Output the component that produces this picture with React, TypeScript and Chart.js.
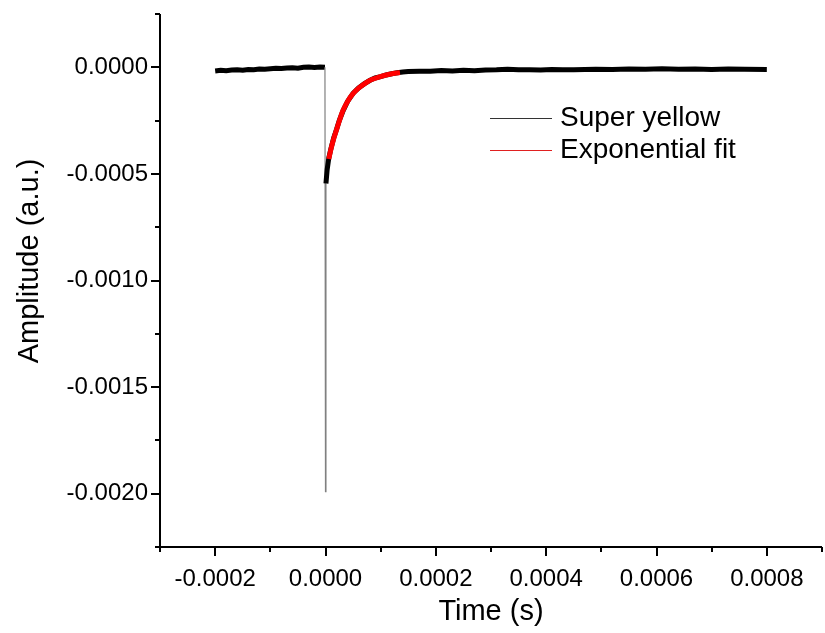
import React, { useEffect, useRef } from "react";
import { Chart, registerables } from "chart.js";

Chart.register(...registerables);

// ---- data ----
const seriesLabels = ["Super yellow", "Exponential fit"];

const blackX = [
  -0.0002, -0.00019, -0.00018, -0.00017, -0.00016, -0.00015, -0.00014, -0.00013, -0.00012, -0.00011,
  -0.0001, -0.00009, -0.00008, -0.00007, -0.00006, -0.00005, -0.00004, -0.00003, -0.00002, -0.00001,
  -0.000001, 0.0, 0.0000008, 0.000003, 0.000006, 0.00001, 0.000015, 0.00002, 0.000025, 0.000032,
  0.00004, 0.00005, 0.00006, 0.00007, 0.00008, 0.00009, 0.0001, 0.00011, 0.00012, 0.00013,
  0.00014, 0.00015, 0.00017, 0.00019, 0.00021, 0.00023, 0.00025, 0.00027, 0.00029, 0.00031,
  0.00033, 0.00035, 0.00037, 0.00039, 0.00041, 0.00043, 0.00045, 0.00047, 0.00049, 0.00052,
  0.00055, 0.00058, 0.00061, 0.00064, 0.00067, 0.0007, 0.00073, 0.00076, 0.0008,
];
const blackY = [
  -0.000017, -0.000014, -0.000016, -0.000013, -0.000012, -0.000014, -0.00001, -0.000011, -0.000008, -0.000009,
  -0.000007, -0.000005, -0.000006, -0.000003, -0.000002, -0.000004, 0.0, 0.000001, -0.000001, 0.000001,
  0.0, -0.00199, -0.000545, -0.00048, -0.000425, -0.00038, -0.00033, -0.000292, -0.00025, -0.000203,
  -0.00016, -0.000122, -0.000097, -0.000078, -0.000062, -0.00005, -0.000044, -0.000036, -0.00003, -0.000026,
  -0.000022, -0.00002, -0.000018, -0.000019, -0.000015, -0.000017, -0.000014, -0.000016, -0.000013, -0.000012,
  -0.000009, -0.000012, -0.000011, -0.000013, -0.00001, -0.000012, -0.000011, -0.00001, -0.000009, -0.00001,
  -0.000008, -0.000009, -0.000007, -0.000009, -0.000008, -0.00001, -0.000008, -0.000009, -0.00001,
];

const fitX = [
  0.000006, 0.00001, 0.000015, 0.0000195, 0.000025, 0.0000315, 0.00004, 0.0000495,
  0.00006, 0.0000738, 0.000085, 0.0000978, 0.00011, 0.000128, 0.000135,
];
const fitY = [
  -0.00043, -0.000382, -0.000334, -0.000297, -0.000252, -0.000204, -0.00016, -0.000125,
  -0.000098, -0.000072, -0.000056, -0.000045, -0.000036, -0.000027, -0.000025,
];

const xTickValues = [-0.0002, 0.0, 0.0002, 0.0004, 0.0006, 0.0008];
const yTickValues = [0.0, -0.0005, -0.001, -0.0015, -0.002];
const xMinorValues = [-0.0003, -0.0001, 0.0001, 0.0003, 0.0005, 0.0007, 0.0009];
const yMinorValues = [0.00025, -0.00025, -0.00075, -0.00125, -0.00175, -0.00225];

const xTitle = "Time (s)";
const yTitle = "Amplitude (a.u.)";

const FONT = "'Liberation Sans', Arial, sans-serif";

const decorPlugin = {
  id: "decor",
  afterDraw(chart: any) {
    const ctx = chart.ctx;
    const xs = chart.scales.x;
    const ys = chart.scales.y;
    const area = chart.chartArea;
    ctx.save();
    ctx.strokeStyle = "#000";
    ctx.lineWidth = 2;
    ctx.lineCap = "butt";
    // axis lines
    ctx.beginPath();
    ctx.moveTo(area.left, area.top);
    ctx.lineTo(area.left, area.bottom);
    ctx.lineTo(area.right, area.bottom);
    ctx.stroke();
    // ticks
    ctx.beginPath();
    xTickValues.forEach((v) => {
      const px = Math.round(xs.getPixelForValue(v));
      ctx.moveTo(px, area.bottom);
      ctx.lineTo(px, area.bottom + 9);
    });
    xMinorValues.forEach((v) => {
      const px = Math.round(xs.getPixelForValue(v));
      ctx.moveTo(px, area.bottom);
      ctx.lineTo(px, area.bottom + 5);
    });
    yTickValues.forEach((v) => {
      const py = Math.round(ys.getPixelForValue(v));
      ctx.moveTo(area.left, py);
      ctx.lineTo(area.left - 9, py);
    });
    yMinorValues.forEach((v) => {
      const py = Math.round(ys.getPixelForValue(v));
      ctx.moveTo(area.left, py);
      ctx.lineTo(area.left - 5, py);
    });
    ctx.stroke();

    // titles
    ctx.fillStyle = "#000";
    ctx.font = `29px ${FONT}`;
    ctx.textAlign = "center";
    ctx.textBaseline = "middle";
    ctx.fillText(xTitle, (area.left + area.right) / 2, 612);
    ctx.save();
    ctx.translate(30, 261);
    ctx.rotate(-Math.PI / 2);
    ctx.fillText(yTitle, 0, 0);
    ctx.restore();

    // legend
    const ds = chart.data.datasets;
    const legendColors = ["#333", "#e02020"];
    ctx.font = `28px ${FONT}`;
    ctx.textAlign = "left";
    ds.forEach((d: any, i: number) => {
      const y = 118 + i * 32;
      ctx.strokeStyle = legendColors[i];
      ctx.lineWidth = 1;
      ctx.beginPath();
      ctx.moveTo(490, y + 0.5);
      ctx.lineTo(552, y + 0.5);
      ctx.stroke();
      ctx.fillStyle = "#000";
      ctx.fillText(d.label, 560, y);
    });
    ctx.restore();
  },
};

export default function App() {
  const ref = useRef<HTMLCanvasElement | null>(null);
  useEffect(() => {
    if (!ref.current) return;
    const isSpike = (c: any) => c.p0.parsed.x >= -0.0000015 && c.p1.parsed.x <= 0.000001;
    const chart = new Chart(ref.current, {
      type: "line",
      data: {
        datasets: [
          {
            label: seriesLabels[0],
            data: blackX.map((x, i) => ({ x, y: blackY[i] })),
            borderColor: "#000",
            borderWidth: 5,
            pointRadius: 0,
            tension: 0,
            order: 2,
            segment: {
              borderWidth: (c: any) => (isSpike(c) ? 1.2 : undefined),
              borderColor: (c: any) => (isSpike(c) ? "#808080" : undefined),
            },
          } as any,
          {
            label: seriesLabels[1],
            data: fitX.map((x, i) => ({ x, y: fitY[i] })),
            borderColor: "#ff0000",
            borderWidth: 5,
            pointRadius: 0,
            tension: 0.3,
            order: 1,
          },
        ],
      },
      options: {
        responsive: false,
        animation: false,
        layout: { padding: { top: 14, right: 3, left: 0, bottom: 0 } },
        plugins: { legend: { display: false }, tooltip: { enabled: false } },
        scales: {
          x: {
            type: "linear",
            min: -0.0003,
            max: 0.0009,
            grid: { display: false, drawTicks: false },
            border: { display: false },
            afterBuildTicks: (s: any) => {
              s.ticks = xTickValues.map((v) => ({ value: v }));
            },
            afterFit: (s: any) => {
              s.height = 86;
              s.paddingLeft = 0;
              s.paddingRight = 0;
            },
            ticks: {
              callback: (v: any) => Number(v).toFixed(4),
              font: { size: 24, family: FONT },
              color: "#000",
              padding: 18,
              maxRotation: 0,
              autoSkip: false,
            },
          },
          y: {
            type: "linear",
            min: -0.00225,
            max: 0.00025,
            grid: { display: false, drawTicks: false },
            border: { display: false },
            afterBuildTicks: (s: any) => {
              s.ticks = yTickValues.map((v) => ({ value: v }));
            },
            afterFit: (s: any) => {
              s.width = 160;
              s.paddingTop = 0;
              s.paddingBottom = 0;
            },
            ticks: {
              callback: (v: any) => Number(v).toFixed(4),
              font: { size: 24, family: FONT },
              color: "#000",
              padding: 12,
              autoSkip: false,
            },
          },
        },
      },
      plugins: [decorPlugin],
    });
    return () => chart.destroy();
  }, []);
  return (
    <div style={{ position: "absolute", left: 0, top: 0, width: 825, height: 633, background: "#fff" }}>
      <canvas ref={ref} width={825} height={633} style={{ display: "block" }} />
    </div>
  );
}
